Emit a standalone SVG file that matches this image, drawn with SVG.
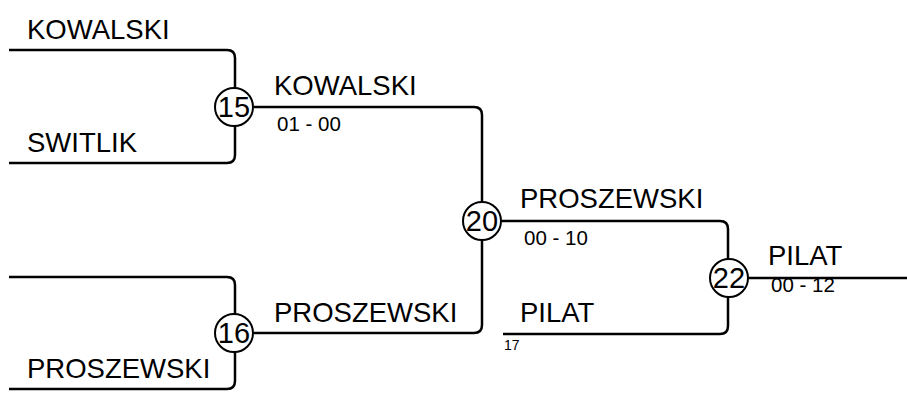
<svg xmlns="http://www.w3.org/2000/svg" width="907" height="394" viewBox="0 0 907 394">
<style>
.ln{fill:none;stroke:#000;stroke-width:2.5}
.c{fill:#fff;stroke:#000;stroke-width:2}
.nm{font-family:"Liberation Sans",Arial,sans-serif;font-size:27.5px;fill:#000}
.sc{font-family:"Liberation Sans",Arial,sans-serif;font-size:20.5px;fill:#000}
.sm{font-family:"Liberation Sans",Arial,sans-serif;font-size:14px;fill:#000}
.cn{font-family:"Liberation Sans",Arial,sans-serif;font-size:29px;fill:#000;text-anchor:middle}
</style>
<rect width="907" height="394" fill="#fff"/>
<g id="connectors">
<path class="ln" d="M9,50 H227 Q235,50 235,58 V155 Q235,163 227,163 H9"/>
<path class="ln" d="M254,107 H474 Q482,107 482,115 V202"/>
<path class="ln" d="M9,277 H227 Q235,277 235,285 V381 Q235,389 227,389 H9"/>
<path class="ln" d="M254,333 H474 Q482,333 482,325 V240"/>
<path class="ln" d="M501,221 H720 Q728,221 728,229 V260"/>
<path class="ln" d="M503,334 H720 Q728,334 728,326 V297"/>
<path class="ln" d="M747,278 H907"/>
</g>
<g id="labels">
<text class="nm" x="27" y="39">KOWALSKI</text>
<text class="nm" x="27" y="152">SWITLIK</text>
<text class="nm" x="27" y="378">PROSZEWSKI</text>
<text class="nm" x="274" y="95">KOWALSKI</text>
<text class="sc" x="277" y="131">01 - 00</text>
<text class="nm" x="274" y="322">PROSZEWSKI</text>
<text class="nm" x="520" y="208">PROSZEWSKI</text>
<text class="sc" x="524" y="245">00 - 10</text>
<text class="nm" x="520" y="322">PILAT</text>
<text class="sm" x="504" y="350">17</text>
<text class="nm" x="768" y="265">PILAT</text>
<text class="sc" x="771" y="292">00 - 12</text>
</g>
<g id="n15"><circle class="c" cx="234" cy="107" r="19"/><text class="cn" x="234" y="117">15</text></g>
<g id="n16"><circle class="c" cx="234" cy="333" r="19"/><text class="cn" x="234" y="343">16</text></g>
<g id="n20"><circle class="c" cx="482" cy="221" r="19"/><text class="cn" x="482" y="231">20</text></g>
<g id="n22"><circle class="c" cx="729" cy="278" r="19"/><text class="cn" x="729" y="288">22</text></g>
</svg>
